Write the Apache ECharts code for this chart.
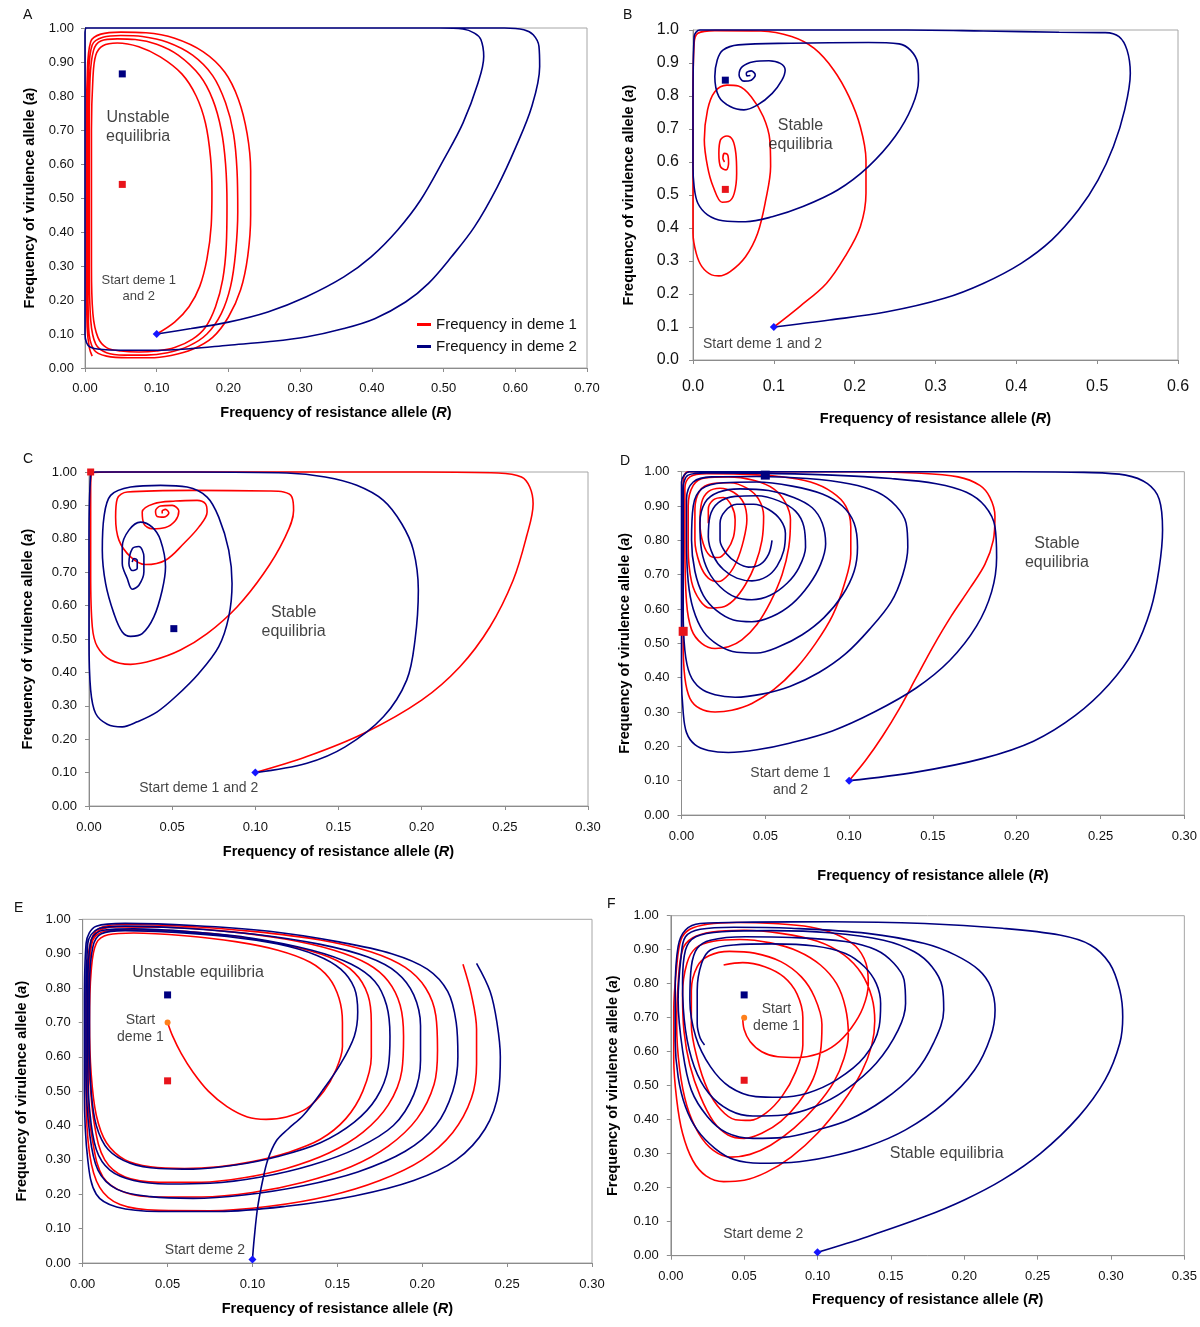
<!DOCTYPE html>
<html><head><meta charset="utf-8">
<script src="https://cdn.jsdelivr.net/npm/echarts@6/dist/echarts.min.js"></script>
<style>html,body{margin:0;padding:0;background:#fff}#c{width:1200px;height:1327px}</style>
</head><body><div id="c"></div>
<script>
// ---------------- DATA (R = resistance allele freq, a = virulence allele freq) ----------------
// Panel A
const A_red = [[0.100,0.100],[0.125,0.135],[0.145,0.18],[0.160,0.24],[0.170,0.32],[0.176,0.42],[0.177,0.52],[0.175,0.62],[0.168,0.72],[0.155,0.80],[0.135,0.865],[0.105,0.915],[0.075,0.945],[0.045,0.956],[0.025,0.948],[0.015,0.92],[0.011,0.85],[0.009,0.7],[0.009,0.5],[0.009,0.3],[0.011,0.16],[0.018,0.09],[0.03,0.06],[0.05,0.05],[0.075,0.047],[0.10,0.05],[0.125,0.06],[0.15,0.085],[0.168,0.12],[0.182,0.18],[0.192,0.26],[0.197,0.36],[0.198,0.48],[0.196,0.60],[0.19,0.7],[0.178,0.79],[0.16,0.86],[0.13,0.92],[0.10,0.952],[0.07,0.966],[0.045,0.968],[0.022,0.962],[0.012,0.935],[0.007,0.85],[0.006,0.7],[0.006,0.5],[0.006,0.3],[0.008,0.14],[0.015,0.07],[0.03,0.045],[0.055,0.038],[0.085,0.038],[0.115,0.045],[0.145,0.065],[0.17,0.1],[0.19,0.16],[0.203,0.24],[0.21,0.34],[0.213,0.46],[0.212,0.58],[0.207,0.69],[0.196,0.78],[0.178,0.86],[0.15,0.92],[0.115,0.958],[0.08,0.975],[0.05,0.978],[0.025,0.973],[0.01,0.95],[0.005,0.85],[0.004,0.7],[0.004,0.5],[0.004,0.3],[0.005,0.12],[0.012,0.055],[0.03,0.035],[0.06,0.03],[0.09,0.03],[0.12,0.037],[0.15,0.055],[0.178,0.09],[0.2,0.15],[0.217,0.23],[0.227,0.33],[0.231,0.45],[0.231,0.58],[0.226,0.69],[0.214,0.79],[0.195,0.87],[0.165,0.93],[0.125,0.97],[0.085,0.986],[0.05,0.988],[0.022,0.982],[0.008,0.96],[0.003,0.85],[0.002,0.7],[0.002,0.5],[0.002,0.3],[0.003,0.12],[0.006,0.06],[0.01,0.035]];
const A_blue = [[0.10,0.10],[0.148,0.116],[0.20,0.135],[0.255,0.165],[0.308,0.209],[0.361,0.268],[0.399,0.327],[0.436,0.406],[0.468,0.494],[0.50,0.612],[0.527,0.72],[0.548,0.838],[0.556,0.916],[0.552,0.966],[0.543,0.985],[0.527,0.997],[0.495,1.0],[0.30,1.0],[0.10,1.0],[0.002,1.0],[0.0,0.98],[0.0,0.5],[0.0,0.1],[0.002,0.075],[0.007,0.062],[0.02,0.055],[0.05,0.052],[0.095,0.052],[0.148,0.057],[0.20,0.067],[0.255,0.077],[0.308,0.091],[0.361,0.116],[0.404,0.145],[0.447,0.194],[0.479,0.249],[0.511,0.327],[0.543,0.415],[0.575,0.533],[0.601,0.651],[0.623,0.769],[0.634,0.887],[0.633,0.946],[0.625,0.98],[0.612,0.995],[0.585,1.0],[0.40,1.0],[0.20,1.0],[0.0,1.0]];
const A_eqBlue = [[0.052,0.865]], A_eqRed = [[0.052,0.54]], A_start = [[0.1,0.1]];
const A_text = [[0.074,0.708,'Unstable\nequilibria'],[0.075,0.235,'Start deme 1\nand 2']];

// Panel B
const B_red = [[0.1,0.1],[0.132,0.162],[0.165,0.232],[0.188,0.313],[0.207,0.404],[0.214,0.505],[0.214,0.606],[0.207,0.707],[0.193,0.798],[0.174,0.879],[0.15,0.944],[0.122,0.98],[0.084,0.997],[0.027,0.998],[0.006,0.99],[0.0014,0.96],[0.0,0.79],[0.0,0.59],[0.0,0.384],[0.004,0.323],[0.011,0.283],[0.023,0.258],[0.032,0.255],[0.046,0.268],[0.065,0.313],[0.08,0.384],[0.09,0.485],[0.096,0.586],[0.095,0.667],[0.087,0.737],[0.072,0.798],[0.056,0.83],[0.042,0.833],[0.027,0.813],[0.018,0.758],[0.014,0.667],[0.018,0.586],[0.025,0.525],[0.036,0.478],[0.044,0.48],[0.051,0.505],[0.054,0.566],[0.053,0.626],[0.049,0.667],[0.042,0.679],[0.034,0.667],[0.032,0.626],[0.034,0.586],[0.041,0.576],[0.044,0.596],[0.043,0.621],[0.039,0.626],[0.037,0.611],[0.039,0.6]];
const B_blue = [[0.1,0.1],[0.169,0.121],[0.24,0.146],[0.311,0.187],[0.359,0.232],[0.406,0.293],[0.444,0.364],[0.477,0.455],[0.501,0.545],[0.52,0.646],[0.534,0.758],[0.541,0.869],[0.537,0.939],[0.527,0.98],[0.51,0.992],[0.453,0.993],[0.359,0.997],[0.264,1.0],[0.1,1.0],[0.0085,1.0],[0.0014,0.98],[0.0,0.79],[0.0,0.586],[0.0014,0.525],[0.006,0.475],[0.018,0.44],[0.037,0.422],[0.065,0.419],[0.098,0.434],[0.136,0.465],[0.179,0.515],[0.217,0.586],[0.25,0.677],[0.271,0.768],[0.279,0.848],[0.278,0.899],[0.269,0.939],[0.255,0.958],[0.217,0.962],[0.122,0.96],[0.056,0.955],[0.037,0.939],[0.03,0.909],[0.027,0.859],[0.032,0.798],[0.046,0.768],[0.063,0.758],[0.08,0.773],[0.098,0.808],[0.11,0.848],[0.114,0.879],[0.108,0.899],[0.094,0.907],[0.075,0.904],[0.061,0.889],[0.057,0.864],[0.063,0.845],[0.072,0.848],[0.077,0.864],[0.072,0.876],[0.066,0.87],[0.067,0.861],[0.071,0.862]];
const B_eqBlue = [[0.04,0.848]], B_eqRed = [[0.04,0.517]], B_start = [[0.1,0.1]];
const B_text = [[0.133,0.682,'Stable\nequilibria'],[0.086,0.048,'Start deme 1 and 2']];

// Panel C
const C_red = [[0.1,0.1],[0.131,0.148],[0.165,0.217],[0.2,0.317],[0.223,0.417],[0.241,0.536],[0.255,0.676],[0.263,0.806],[0.267,0.905],[0.265,0.955],[0.26,0.985],[0.246,0.997],[0.2,1.0],[0.108,1.0],[0.016,1.0],[0.002,0.998],[0.001,0.945],[0.001,0.696],[0.002,0.536],[0.005,0.477],[0.013,0.437],[0.025,0.424],[0.039,0.437],[0.055,0.467],[0.071,0.516],[0.089,0.596],[0.105,0.696],[0.117,0.796],[0.123,0.885],[0.122,0.925],[0.117,0.94],[0.108,0.943],[0.062,0.945],[0.023,0.94],[0.017,0.92],[0.016,0.865],[0.018,0.796],[0.025,0.746],[0.034,0.723],[0.046,0.736],[0.057,0.786],[0.066,0.835],[0.071,0.88],[0.07,0.905],[0.065,0.915],[0.052,0.913],[0.039,0.905],[0.032,0.88],[0.033,0.845],[0.038,0.83],[0.046,0.834],[0.052,0.855],[0.054,0.883],[0.05,0.9],[0.043,0.898],[0.04,0.883],[0.041,0.867],[0.045,0.865],[0.048,0.877],[0.046,0.888],[0.044,0.883],[0.044,0.876]];
const C_blue = [[0.1,0.1],[0.131,0.128],[0.154,0.177],[0.177,0.267],[0.191,0.377],[0.196,0.497],[0.198,0.646],[0.195,0.766],[0.188,0.845],[0.177,0.915],[0.161,0.96],[0.142,0.985],[0.119,0.997],[0.062,1.0],[0.004,1.0],[0.001,0.99],[0.0,0.796],[0.0,0.497],[0.001,0.347],[0.004,0.277],[0.011,0.245],[0.02,0.237],[0.029,0.252],[0.041,0.282],[0.052,0.327],[0.066,0.397],[0.078,0.477],[0.084,0.566],[0.086,0.666],[0.084,0.766],[0.078,0.865],[0.071,0.925],[0.059,0.955],[0.043,0.96],[0.025,0.955],[0.013,0.93],[0.009,0.865],[0.008,0.766],[0.01,0.666],[0.015,0.576],[0.02,0.521],[0.025,0.508],[0.032,0.516],[0.039,0.566],[0.044,0.646],[0.046,0.716],[0.043,0.796],[0.038,0.835],[0.031,0.85],[0.024,0.826],[0.02,0.776],[0.02,0.726],[0.023,0.681],[0.026,0.649],[0.03,0.661],[0.033,0.701],[0.033,0.746],[0.03,0.777],[0.026,0.77],[0.024,0.726],[0.026,0.705],[0.029,0.712],[0.029,0.735],[0.027,0.741],[0.026,0.73]];
const C_eqBlue = [[0.051,0.531]], C_eqRed = [[0.001,1.0]], C_start = [[0.1,0.1]];
const C_text = [[0.123,0.55,'Stable\nequilibria'],[0.066,0.054,'Start deme 1 and 2']];

// Panel D
const D_red = [[0.1,0.1],[0.11,0.16],[0.12,0.23],[0.13,0.31],[0.14,0.4],[0.15,0.49],[0.161,0.58],[0.172,0.66],[0.181,0.73],[0.186,0.8],[0.187,0.87],[0.184,0.925],[0.178,0.96],[0.165,0.985],[0.14,0.996],[0.1,1.0],[0.05,1.0],[0.004,1.0],[0.001,0.97],[0.001,0.75],[0.001,0.5],[0.002,0.4],[0.005,0.34],[0.011,0.31],[0.02,0.3],[0.03,0.305],[0.042,0.325],[0.055,0.365],[0.068,0.425],[0.08,0.5],[0.09,0.58],[0.097,0.67],[0.101,0.76],[0.101,0.84],[0.098,0.9],[0.09,0.94],[0.077,0.97],[0.058,0.986],[0.035,0.993],[0.015,0.994],[0.005,0.985],[0.002,0.95],[0.002,0.8],[0.003,0.62],[0.006,0.54],[0.012,0.5],[0.02,0.485],[0.028,0.49],[0.036,0.51],[0.045,0.555],[0.053,0.62],[0.06,0.7],[0.064,0.78],[0.065,0.86],[0.062,0.91],[0.055,0.95],[0.043,0.975],[0.028,0.985],[0.014,0.982],[0.007,0.96],[0.004,0.9],[0.004,0.78],[0.006,0.68],[0.011,0.625],[0.017,0.603],[0.024,0.605],[0.031,0.625],[0.038,0.67],[0.044,0.73],[0.048,0.8],[0.049,0.87],[0.046,0.92],[0.039,0.952],[0.029,0.968],[0.018,0.965],[0.011,0.945],[0.008,0.89],[0.008,0.8],[0.011,0.73],[0.016,0.69],[0.022,0.68],[0.028,0.7],[0.033,0.74],[0.037,0.8],[0.039,0.86],[0.037,0.91],[0.031,0.94],[0.023,0.952],[0.016,0.942],[0.012,0.91],[0.011,0.85],[0.013,0.79],[0.017,0.755],[0.022,0.75],[0.027,0.77],[0.031,0.81],[0.032,0.86],[0.03,0.9],[0.025,0.925],[0.019,0.918],[0.016,0.89],[0.016,0.85]];
const D_blue = [[0.1,0.1],[0.14,0.125],[0.18,0.165],[0.21,0.215],[0.235,0.29],[0.255,0.38],[0.27,0.48],[0.28,0.6],[0.285,0.72],[0.287,0.83],[0.285,0.92],[0.278,0.965],[0.265,0.99],[0.24,0.998],[0.2,1.0],[0.12,1.0],[0.05,1.0],[0.005,1.0],[0.0,0.97],[0.0,0.8],[0.0,0.6],[0.0,0.4],[0.001,0.3],[0.003,0.24],[0.008,0.205],[0.016,0.188],[0.028,0.182],[0.045,0.19],[0.065,0.21],[0.09,0.245],[0.115,0.3],[0.14,0.37],[0.16,0.45],[0.176,0.55],[0.185,0.65],[0.188,0.75],[0.187,0.84],[0.181,0.9],[0.17,0.94],[0.152,0.965],[0.125,0.98],[0.09,0.99],[0.05,0.995],[0.015,0.996],[0.004,0.99],[0.001,0.95],[0.001,0.8],[0.001,0.6],[0.002,0.48],[0.005,0.41],[0.011,0.37],[0.02,0.35],[0.032,0.343],[0.048,0.352],[0.065,0.375],[0.082,0.415],[0.098,0.47],[0.112,0.54],[0.125,0.62],[0.132,0.7],[0.135,0.78],[0.134,0.85],[0.128,0.9],[0.117,0.94],[0.1,0.965],[0.075,0.98],[0.045,0.986],[0.018,0.985],[0.007,0.97],[0.003,0.92],[0.003,0.8],[0.004,0.68],[0.007,0.6],[0.013,0.535],[0.022,0.495],[0.033,0.474],[0.045,0.472],[0.058,0.49],[0.072,0.525],[0.085,0.575],[0.096,0.64],[0.103,0.71],[0.105,0.78],[0.103,0.85],[0.096,0.9],[0.084,0.935],[0.066,0.958],[0.045,0.97],[0.025,0.968],[0.012,0.95],[0.007,0.9],[0.006,0.8],[0.008,0.71],[0.013,0.64],[0.021,0.595],[0.031,0.568],[0.042,0.563],[0.054,0.578],[0.066,0.615],[0.076,0.67],[0.083,0.73],[0.086,0.79],[0.084,0.85],[0.078,0.895],[0.067,0.925],[0.052,0.945],[0.035,0.95],[0.022,0.94],[0.014,0.91],[0.011,0.85],[0.012,0.77],[0.016,0.71],[0.023,0.665],[0.032,0.635],[0.042,0.627],[0.053,0.64],[0.063,0.675],[0.07,0.72],[0.074,0.78],[0.073,0.84],[0.068,0.885],[0.058,0.915],[0.045,0.93],[0.032,0.928],[0.022,0.91],[0.017,0.87],[0.016,0.81],[0.019,0.755],[0.025,0.715],[0.033,0.69],[0.042,0.682],[0.051,0.695],[0.057,0.725],[0.061,0.77],[0.062,0.82],[0.059,0.86],[0.052,0.89],[0.043,0.905],[0.033,0.905],[0.026,0.885],[0.023,0.85],[0.023,0.8],[0.027,0.76],[0.033,0.735],[0.04,0.722],[0.047,0.73],[0.052,0.76],[0.054,0.8]];
const D_eqBlue = [[0.05,0.99]], D_eqRed = [[0.001,0.535]], D_start = [[0.1,0.1]];
const D_text = [[0.224,0.763,'Stable\nequilibria'],[0.065,0.096,'Start deme 1\nand 2']];

// Panel E
const E_red = [[0.05,0.70],[0.053,0.66],[0.058,0.61],[0.065,0.555],[0.074,0.5],[0.085,0.455],[0.097,0.425],[0.108,0.418],[0.12,0.425],[0.132,0.45],[0.142,0.5],[0.149,0.56],[0.153,0.63],[0.153,0.7],[0.151,0.77],[0.145,0.83],[0.134,0.875],[0.115,0.91],[0.09,0.935],[0.06,0.952],[0.03,0.96],[0.015,0.955],[0.008,0.93],[0.005,0.85],[0.004,0.7],[0.005,0.55],[0.008,0.43],[0.014,0.35],[0.025,0.3],[0.04,0.28],[0.06,0.275],[0.08,0.28],[0.1,0.295],[0.12,0.32],[0.14,0.36],[0.155,0.42],[0.165,0.5],[0.17,0.6],[0.17,0.7],[0.168,0.78],[0.16,0.845],[0.145,0.89],[0.12,0.925],[0.09,0.95],[0.06,0.965],[0.03,0.97],[0.013,0.965],[0.006,0.94],[0.004,0.85],[0.003,0.7],[0.004,0.55],[0.007,0.4],[0.013,0.3],[0.025,0.25],[0.045,0.235],[0.07,0.235],[0.095,0.248],[0.12,0.275],[0.145,0.32],[0.165,0.38],[0.18,0.46],[0.188,0.56],[0.189,0.66],[0.187,0.75],[0.18,0.82],[0.168,0.87],[0.148,0.91],[0.12,0.942],[0.085,0.965],[0.05,0.977],[0.02,0.978],[0.008,0.96],[0.004,0.88],[0.003,0.7],[0.003,0.5],[0.006,0.35],[0.012,0.25],[0.025,0.205],[0.045,0.192],[0.07,0.192],[0.1,0.205],[0.13,0.235],[0.158,0.28],[0.18,0.34],[0.197,0.42],[0.207,0.52],[0.209,0.62],[0.208,0.72],[0.202,0.8],[0.19,0.86],[0.17,0.905],[0.14,0.94],[0.1,0.965],[0.06,0.98],[0.025,0.985],[0.01,0.975],[0.004,0.92],[0.002,0.75],[0.002,0.5],[0.004,0.32],[0.01,0.22],[0.022,0.17],[0.045,0.153],[0.075,0.152],[0.11,0.165],[0.145,0.195],[0.175,0.24],[0.2,0.3],[0.218,0.38],[0.229,0.48],[0.232,0.58],[0.232,0.68],[0.229,0.78],[0.224,0.869]];
const E_blue = [[0.1,0.01],[0.101,0.07],[0.103,0.16],[0.106,0.24],[0.109,0.3],[0.114,0.355],[0.121,0.39],[0.13,0.43],[0.141,0.5],[0.152,0.58],[0.16,0.66],[0.162,0.73],[0.16,0.8],[0.152,0.855],[0.138,0.895],[0.115,0.928],[0.085,0.95],[0.055,0.962],[0.025,0.967],[0.011,0.958],[0.006,0.92],[0.004,0.8],[0.004,0.65],[0.005,0.5],[0.008,0.4],[0.015,0.33],[0.028,0.29],[0.045,0.275],[0.065,0.273],[0.09,0.285],[0.115,0.31],[0.14,0.35],[0.16,0.41],[0.173,0.48],[0.18,0.57],[0.181,0.66],[0.179,0.75],[0.172,0.82],[0.158,0.87],[0.135,0.91],[0.1,0.945],[0.065,0.963],[0.03,0.972],[0.012,0.968],[0.005,0.94],[0.003,0.8],[0.003,0.6],[0.004,0.45],[0.008,0.33],[0.016,0.27],[0.03,0.24],[0.05,0.23],[0.075,0.232],[0.105,0.25],[0.135,0.285],[0.162,0.335],[0.183,0.4],[0.195,0.49],[0.199,0.59],[0.199,0.69],[0.195,0.78],[0.185,0.845],[0.168,0.89],[0.14,0.927],[0.1,0.957],[0.06,0.974],[0.025,0.98],[0.009,0.972],[0.003,0.93],[0.002,0.75],[0.002,0.55],[0.004,0.38],[0.009,0.27],[0.02,0.215],[0.04,0.193],[0.065,0.188],[0.095,0.198],[0.13,0.225],[0.162,0.265],[0.19,0.325],[0.208,0.4],[0.218,0.5],[0.221,0.6],[0.22,0.7],[0.215,0.79],[0.203,0.855],[0.182,0.9],[0.15,0.935],[0.11,0.965],[0.065,0.982],[0.025,0.988],[0.008,0.98],[0.002,0.93],[0.001,0.75],[0.001,0.5],[0.003,0.3],[0.008,0.2],[0.02,0.163],[0.045,0.15],[0.08,0.15],[0.12,0.165],[0.16,0.195],[0.195,0.24],[0.22,0.3],[0.237,0.39],[0.245,0.5],[0.246,0.6],[0.244,0.7],[0.24,0.79],[0.232,0.872]];
const E_eqBlue = [[0.05,0.78]], E_eqRed = [[0.05,0.53]], E_start1 = [[0.05,0.70]], E_start2 = [[0.1,0.01]];
const E_text = [[0.068,0.846,'Unstable equilibria'],[0.034,0.683,'Start\ndeme 1'],[0.072,0.038,'Start deme 2']];

// Panel F
const F_red = [[0.049,0.703],[0.05,0.665],[0.054,0.63],[0.062,0.6],[0.073,0.585],[0.087,0.583],[0.1,0.593],[0.112,0.62],[0.123,0.67],[0.131,0.73],[0.1346,0.8],[0.133,0.86],[0.126,0.91],[0.113,0.945],[0.095,0.967],[0.07,0.977],[0.045,0.98],[0.025,0.975],[0.013,0.96],[0.007,0.93],[0.004,0.85],[0.002,0.72],[0.002,0.58],[0.004,0.46],[0.008,0.36],[0.015,0.28],[0.024,0.235],[0.036,0.218],[0.05,0.222],[0.065,0.245],[0.082,0.29],[0.1,0.36],[0.117,0.45],[0.13,0.54],[0.137,0.62],[0.139,0.69],[0.137,0.76],[0.13,0.83],[0.118,0.885],[0.1,0.925],[0.075,0.948],[0.05,0.957],[0.028,0.952],[0.015,0.935],[0.008,0.9],[0.005,0.8],[0.004,0.68],[0.006,0.55],[0.011,0.44],[0.019,0.36],[0.029,0.31],[0.041,0.29],[0.054,0.298],[0.068,0.325],[0.084,0.375],[0.099,0.44],[0.111,0.51],[0.118,0.58],[0.121,0.65],[0.119,0.73],[0.113,0.8],[0.102,0.855],[0.087,0.895],[0.068,0.92],[0.047,0.93],[0.029,0.925],[0.017,0.905],[0.011,0.86],[0.008,0.77],[0.009,0.66],[0.013,0.56],[0.02,0.47],[0.029,0.395],[0.039,0.355],[0.05,0.345],[0.062,0.36],[0.075,0.395],[0.087,0.45],[0.097,0.52],[0.102,0.6],[0.103,0.68],[0.098,0.76],[0.089,0.82],[0.075,0.865],[0.057,0.89],[0.04,0.895],[0.026,0.882],[0.018,0.85],[0.014,0.78],[0.014,0.68],[0.018,0.58],[0.025,0.49],[0.034,0.43],[0.044,0.4],[0.054,0.398],[0.065,0.42],[0.076,0.47],[0.085,0.54],[0.09,0.62],[0.09,0.7],[0.086,0.77],[0.077,0.82],[0.064,0.85],[0.049,0.862],[0.036,0.855]];
const F_blue = [[0.1,0.01],[0.134,0.056],[0.173,0.115],[0.2,0.164],[0.226,0.223],[0.252,0.301],[0.278,0.409],[0.296,0.517],[0.306,0.625],[0.308,0.703],[0.306,0.781],[0.299,0.86],[0.286,0.914],[0.265,0.943],[0.226,0.963],[0.173,0.977],[0.108,0.982],[0.056,0.981],[0.02,0.977],[0.01,0.958],[0.005,0.91],[0.003,0.781],[0.003,0.634],[0.005,0.526],[0.01,0.438],[0.018,0.37],[0.03,0.316],[0.043,0.283],[0.061,0.272],[0.082,0.274],[0.108,0.291],[0.134,0.321],[0.16,0.37],[0.186,0.448],[0.207,0.546],[0.218,0.644],[0.221,0.723],[0.218,0.791],[0.21,0.84],[0.194,0.884],[0.173,0.918],[0.134,0.948],[0.082,0.963],[0.043,0.966],[0.02,0.96],[0.01,0.938],[0.007,0.879],[0.005,0.752],[0.008,0.605],[0.014,0.487],[0.025,0.409],[0.038,0.362],[0.056,0.345],[0.077,0.348],[0.1,0.37],[0.121,0.399],[0.145,0.458],[0.166,0.536],[0.179,0.625],[0.186,0.723],[0.185,0.791],[0.178,0.85],[0.166,0.894],[0.145,0.928],[0.108,0.95],[0.069,0.956],[0.035,0.953],[0.017,0.938],[0.01,0.899],[0.008,0.801],[0.01,0.664],[0.016,0.556],[0.026,0.477],[0.04,0.428],[0.056,0.411],[0.077,0.414],[0.098,0.438],[0.119,0.487],[0.14,0.566],[0.155,0.664],[0.16,0.742],[0.159,0.811],[0.152,0.86],[0.14,0.899],[0.119,0.924],[0.082,0.936],[0.051,0.938],[0.027,0.928],[0.018,0.904],[0.014,0.85],[0.013,0.752],[0.017,0.644],[0.027,0.556],[0.04,0.497],[0.058,0.468],[0.074,0.466],[0.093,0.478],[0.113,0.517],[0.132,0.585],[0.142,0.674],[0.143,0.742],[0.14,0.801],[0.132,0.85],[0.119,0.889],[0.098,0.911],[0.069,0.917],[0.043,0.914],[0.027,0.899],[0.021,0.86],[0.018,0.781],[0.018,0.683],[0.02,0.64],[0.023,0.62]];
const F_eqBlue = [[0.05,0.767]], F_eqRed = [[0.05,0.516]], F_start1 = [[0.05,0.70]], F_start2 = [[0.1,0.01]];
const F_text = [[0.072,0.699,'Start\ndeme 1'],[0.188,0.299,'Stable equilibria'],[0.063,0.064,'Start deme 2']];

// ---------------- LAYOUT / STYLE ----------------
const FONT = "'Liberation Sans', Arial, sans-serif";
const RED = '#ff0000', BLUE = '#000080', ORANGE = '#ff7f1a', DIAM = '#1515ff';
const panels = [
  {L:'A', lx:23, ly:8,  g:{left:85, top:28, width:502, height:340}, xmax:0.7, xint:0.1, xd:2, yd:2, fs:13, xm:14, ym:11, xg:37, yg:48, red:A_red, blue:A_blue, eqB:A_eqBlue, eqR:A_eqRed, s1:null, s2:A_start, txt:A_text, tfs:[16,13], sq:7},
  {L:'B', lx:623, ly:8, g:{left:693, top:30, width:485, height:330}, xmax:0.6, xint:0.1, xd:1, yd:1, fs:16, xm:19, ym:14, xg:51, yg:57, red:B_red, blue:B_blue, eqB:B_eqBlue, eqR:B_eqRed, s1:null, s2:B_start, txt:B_text, tfs:[16,14], sq:7},
  {L:'C', lx:23, ly:452, g:{left:89, top:472, width:499, height:334}, xmax:0.3, xint:0.05, xd:2, yd:2, fs:13, xm:15, ym:12, xg:38, yg:54, red:C_red, blue:C_blue, eqB:C_eqBlue, eqR:C_eqRed, s1:null, s2:C_start, txt:C_text, tfs:[16,14], sq:7},
  {L:'D', lx:620, ly:454, g:{left:681.5, top:471.7, width:503, height:343.3}, xmax:0.3, xint:0.05, xd:2, yd:2, fs:13, xm:15, ym:12, xg:53, yg:49, red:D_red, blue:D_blue, eqB:D_eqBlue, eqR:D_eqRed, s1:null, s2:D_start, txt:D_text, tfs:[16,14], sq:9},
  {L:'E', lx:14, ly:901, g:{left:82.7, top:919.3, width:509.3, height:343.7}, xmax:0.3, xint:0.05, xd:2, yd:2, fs:13, xm:15, ym:12, xg:38, yg:53, red:E_red, blue:E_blue, eqB:E_eqBlue, eqR:E_eqRed, s1:E_start1, s2:E_start2, txt:E_text, tfs:[16,14,14], sq:7},
  {L:'F', lx:607, ly:897, g:{left:670.8, top:915.7, width:513.6, height:340}, xmax:0.35, xint:0.05, xd:2, yd:2, fs:13, xm:14, ym:12, xg:37, yg:50, red:F_red, blue:F_blue, eqB:F_eqBlue, eqR:F_eqRed, s1:F_start1, s2:F_start2, txt:F_text, tfs:[14,16,14], sq:7}
];

const grid = [], xAxis = [], yAxis = [], series = [], graphic = [];
panels.forEach((p, i) => {
  grid.push(Object.assign({show:true, borderColor:'#a6a6a6', borderWidth:1, backgroundColor:'#fff'}, p.g));
  const axisCommon = {
    axisLine:{show:true, onZero:false, lineStyle:{color:'#8c8c8c', width:1}},
    axisTick:{show:true, length:4, lineStyle:{color:'#8c8c8c'}},
    splitLine:{show:false},
    nameLocation:'middle',
    nameTextStyle:{fontFamily:FONT, fontWeight:'bold', fontSize:14.5, color:'#000',
      rich:{i:{fontFamily:FONT, fontWeight:'bold', fontStyle:'italic', fontSize:14.5, color:'#000'}}}
  };
  xAxis.push(Object.assign({}, axisCommon, {
    gridIndex:i, type:'value', min:0, max:p.xmax, interval:p.xint,
    name:'Frequency of resistance allele ({i|R})', nameGap:p.xg,
    axisLabel:{fontFamily:FONT, fontSize:p.fs, color:'#111', margin:p.xm, formatter:v=>v.toFixed(p.xd)}
  }));
  yAxis.push(Object.assign({}, axisCommon, {
    gridIndex:i, type:'value', min:0, max:1, interval:0.1,
    name:'Frequency of virulence allele ({i|a})', nameGap:p.yg,
    axisLabel:{fontFamily:FONT, fontSize:p.fs, color:'#111', margin:p.ym, formatter:v=>v.toFixed(p.yd)}
  }));
  const lineS = (name, data, color) => ({
    type:'line', name, xAxisIndex:i, yAxisIndex:i, data, showSymbol:false, symbol:'none',
    smooth:0.35, clip:false, lineStyle:{color, width:1.6}, itemStyle:{color}, animation:false, z:2
  });
  series.push(lineS('Frequency in deme 1', p.red, RED));
  series.push(lineS('Frequency in deme 2', p.blue, BLUE));
  const sc = (name, data, symbol, size, color) => ({
    type:'scatter', name, xAxisIndex:i, yAxisIndex:i, data, symbol, symbolSize:size,
    itemStyle:{color, opacity:1}, clip:false, animation:false, z:5
  });
  series.push(sc('eqBlue'+p.L, p.eqB, 'rect', p.sq, BLUE));
  series.push(sc('eqRed'+p.L, p.eqR, 'rect', p.sq, '#e8141b'));
  if (p.s1) series.push(sc('start1'+p.L, p.s1, 'circle', 6, ORANGE));
  series.push(sc('start2'+p.L, p.s2, 'diamond', 8, DIAM));
  series.push({
    type:'scatter', name:'txt'+p.L, xAxisIndex:i, yAxisIndex:i, symbolSize:1, clip:false, animation:false, z:6,
    itemStyle:{color:'rgba(0,0,0,0)'},
    data:p.txt.map((t, k) => ({value:[t[0], t[1]], name:t[2],
      label:{show:true, position:'inside', formatter:'{b}', fontFamily:FONT, fontSize:p.tfs[k],
             lineHeight:Math.round(p.tfs[k]*1.2), color:'#111', align:'center', verticalAlign:'middle'}}))
  });
  graphic.push({type:'text', left:p.lx, top:p.ly, style:{text:p.L, font:'14px '+FONT, fill:'#111'}});
});

const chart = echarts.init(document.getElementById('c'), null, {renderer:'canvas'});
chart.setOption({
  backgroundColor:'#fff',
  animation:false,
  grid, xAxis, yAxis, series, graphic,
  legend:{data:['Frequency in deme 1','Frequency in deme 2'], left:413, top:314, orient:'vertical',
    icon:'rect', itemWidth:14, itemHeight:3, itemGap:7, selectedMode:false,
    backgroundColor:'#fff', padding:[3,4],
    textStyle:{fontFamily:FONT, fontSize:15, color:'#111'}}
});
</script></body></html>
